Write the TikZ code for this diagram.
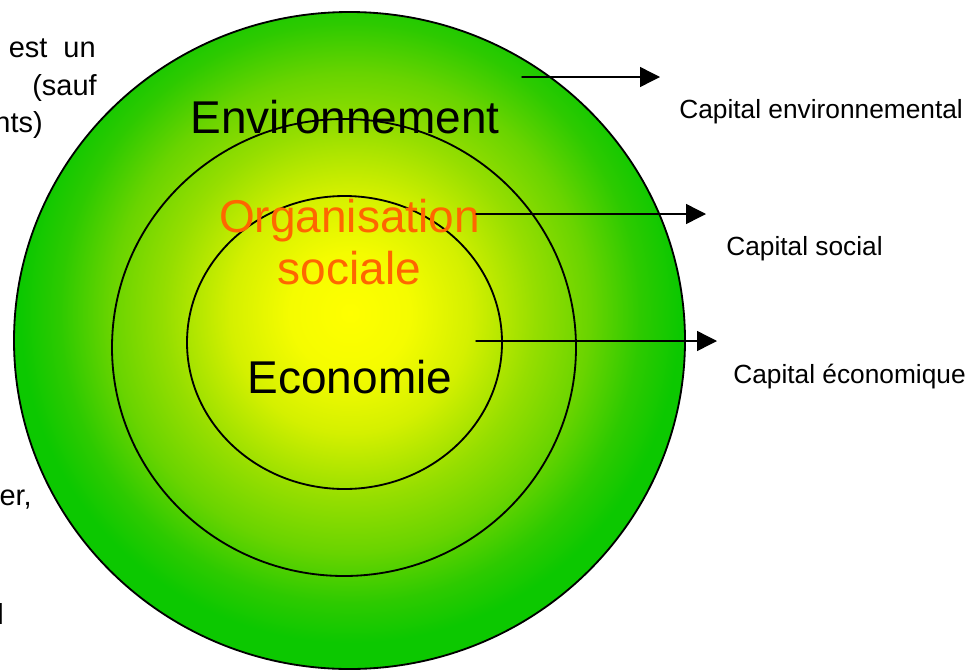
\documentclass[tikz,border=0pt]{standalone}
\usepackage{fontspec}
\setmainfont{Liberation Sans}
\usetikzlibrary{arrows.meta}
\definecolor{orgorange}{RGB}{255,102,0}
\definecolor{gsA}{RGB}{255,255,0}
\definecolor{gsB}{RGB}{245,252,0}
\definecolor{gsC}{RGB}{212,240,0}
\definecolor{gsD}{RGB}{150,222,0}
\definecolor{gsE}{RGB}{105,212,0}
\definecolor{gsF}{RGB}{45,202,0}
\definecolor{gsG}{RGB}{12,200,0}
\pgfdeclareradialshading{envgrad}{\pgfpoint{0bp}{0bp}}{color(0bp)=(gsA); color(4.15bp)=(gsB); color(8.35bp)=(gsC); color(12.85bp)=(gsD); color(16.65bp)=(gsE); color(20.15bp)=(gsF); color(22.9bp)=(gsG); color(25bp)=(gsG); color(50bp)=(gsG)}
\tikzset{
  ring/.style={draw=black, line width=1.3pt},
  bigword/.style={font=\fontsize{32.7}{37}\selectfont, inner sep=0pt, anchor=base},
  capword/.style={font=\fontsize{18.7}{22}\selectfont, inner sep=0pt, anchor=base west},
  leftword/.style={font=\fontsize{20.6}{24}\selectfont, inner sep=0pt, anchor=base east},
  capline/.style={->, line width=1pt}
}
\begin{document}
\begin{tikzpicture}[x=0.025cm, y=-0.025cm, line join=round, line cap=round, >={Triangle[length=0.5cm,width=0.5cm]}]
\useasboundingbox (0,0) rectangle (978,671);
\clip (0,0) rectangle (978,671);
% fond degrade
\begin{scope}
\clip (349.5,340.5) ellipse [x radius=335.5, y radius=328.5];
\shade[shading=envgrad] (350,313) circle (360);
\end{scope}
% les trois spheres
\draw[ring] (349.5,340.5) ellipse [x radius=335.5, y radius=328.5];
\draw[ring] (344,347.5) ellipse [x radius=232, y radius=228.5];
\draw[ring] (344.5,342.5) ellipse [x radius=157.5, y radius=146.5];
% textes des spheres
\node[bigword] (envtxt) at (345,133) {Environnement};
\node[bigword, text=orgorange] (orgtxt) at (349.5,232) {Organisation};
\node[bigword, text=orgorange] (soctxt) at (349.5,284) {sociale};
\node[bigword] (ecotxt) at (350,393) {Economie};
% fleches et capitaux
\coordinate (envfrom) at (522,77);
\coordinate (envto) at (660,77);
\coordinate (socfrom) at (476,214);
\coordinate (socto) at (706,214);
\coordinate (ecofrom) at (476,341);
\coordinate (ecoto) at (717,341);
\draw[capline] (envfrom) -- (envto);
\draw[capline] (socfrom) -- (socto);
\draw[capline] (ecofrom) -- (ecoto);
\node[capword] (envcap) at (679,118) {Capital environnemental};
\node[capword] (soccap) at (726,255) {Capital social};
\node[capword] (ecocap) at (733,383) {Capital économique};
% texte coupe a gauche
\node[leftword] (lefta) at (96,57) {est\ \ un};
\node[leftword] (leftb) at (97,95) {(sauf};
\node[leftword] (leftc) at (43,132) {nts)};
\node[leftword] (leftd) at (32,505) {er,};
\node[leftword] (lefte) at (4,624) {l};
\end{tikzpicture}
\end{document}
